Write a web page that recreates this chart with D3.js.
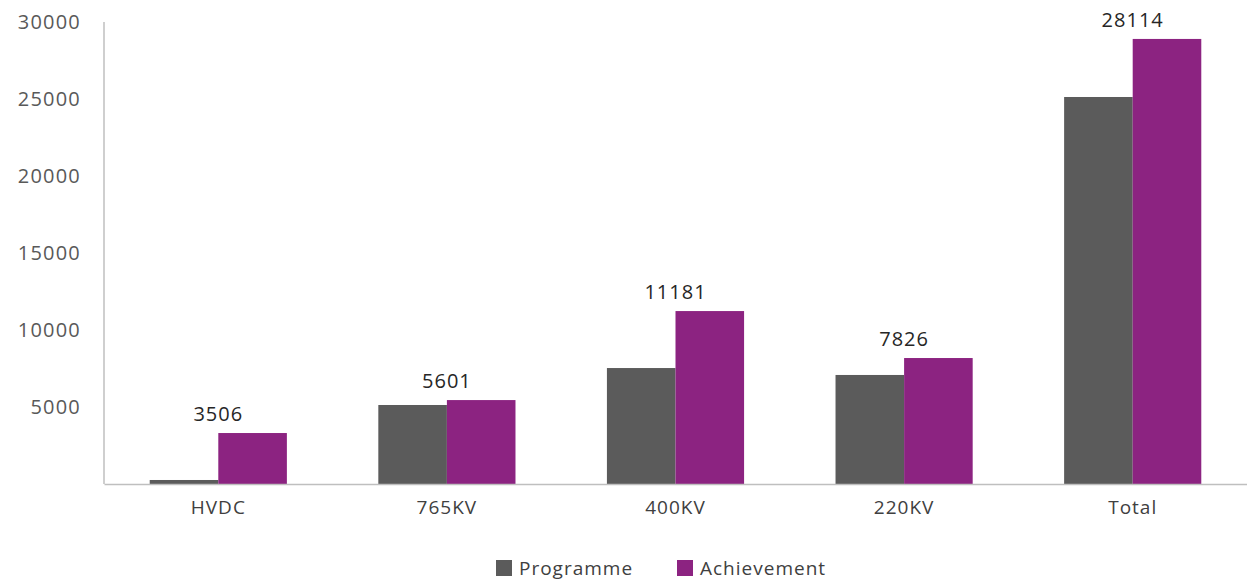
<!DOCTYPE html>
<html>
<head>
<meta charset="utf-8">
<script src="https://cdn.jsdelivr.net/npm/d3@7"></script>
<style>
	body { margin: 0; background: #fff; }
	text { font-family: "Open Sans", "Lato", sans-serif; font-weight: 400; }
</style>
</head>
<body>
<div id="graph"></div>
<script>
var categories = ["HVDC", "765KV", "400KV", "220KV", "Total"];
var programme = [260, 5130, 7530, 7080, 25130];
var achievement = [3310, 5450, 11230, 8180, 28900];
var achievementLabels = ["3506", "5601", "11181", "7826", "28114"];
var yTicks = [5000, 10000, 15000, 20000, 25000, 30000];
var seriesNames = ["Programme", "Achievement"];

var width = 1247
var height = 580
var margin = { top: 22, right: 0, bottom: 96, left: 104 };

var color = d3.scaleOrdinal()
	.domain(seriesNames)
	.range(["#5b5b5b", "#8c2381"]);

var svg = d3.select("#graph")
	.append("svg")
	.attr("width", width)
	.attr("height", height);

var x = d3.scaleBand()
	.domain(categories)
	.range([margin.left, width - margin.right])
	.paddingInner(0.4)
	.paddingOuter(0.2);

var x1 = d3.scaleBand()
	.domain(seriesNames)
	.range([0, x.bandwidth()]);

var y = d3.scaleLinear()
	.domain([0, 30000])
	.range([height - margin.bottom, margin.top]);

var rows = categories.map((c, i) => ({
	cat: c,
	values: [
		{ key: "Programme", value: programme[i] },
		{ key: "Achievement", value: achievement[i] }
	],
	label: achievementLabels[i]
}));

// y axis
var yAxis = svg.append("g")
	.attr("transform", "translate(" + margin.left + ",0)")
	.call(d3.axisLeft(y).tickValues(yTicks).tickFormat(d3.format("d")).tickSize(0).tickPadding(23));
yAxis.select(".domain")
	.attr("stroke", "#bfbfbf")
	.attr("stroke-width", 1.5)
	.attr("d", "M0," + y(30000) + "V" + y(0));
yAxis.selectAll("text")
	.attr("fill", "#595959")
	.style("font-size", "20px")
	.style("letter-spacing", "1.2px");

// bars
var group = svg.selectAll("g.group")
	.data(rows)
	.enter()
	.append("g")
	.attr("class", "group")
	.attr("transform", (d) => "translate(" + x(d.cat) + ",0)");

group.selectAll("rect")
	.data((d) => d.values)
	.enter()
	.append("rect")
	.attr("x", (d) => x1(d.key))
	.attr("y", (d) => y(d.value))
	.attr("width", x1.bandwidth())
	.attr("height", (d) => y(0) - y(d.value))
	.attr("fill", (d) => color(d.key));

group.append("text")
	.attr("x", x.bandwidth() / 2)
	.attr("y", (d) => y(d.values[1].value) - 12)
	.attr("text-anchor", "middle")
	.attr("fill", "#262626")
	.style("font-size", "20px")
	.style("letter-spacing", "1px")
	.text((d) => d.label);

// x axis
var xAxis = svg.append("g")
	.attr("transform", "translate(0," + y(0) + ")")
	.call(d3.axisBottom(x).tickSize(0).tickPadding(17));
xAxis.select(".domain")
	.attr("stroke", "#bfbfbf")
	.attr("stroke-width", 1.5);
xAxis.selectAll("text")
	.attr("fill", "#404040")
	.style("font-size", "19px")
	.style("letter-spacing", "1px");

// legend
var legendX = [496, 677];
var legend = svg.append("g")
	.selectAll("g")
	.data(seriesNames)
	.enter()
	.append("g")
	.attr("transform", (d, i) => "translate(" + legendX[i] + ",560)");

legend.append("rect")
	.attr("width", 16)
	.attr("height", 16)
	.attr("fill", (d) => color(d));

legend.append("text")
	.attr("x", 23)
	.attr("y", 15)
	.attr("fill", "#404040")
	.style("font-size", "19px")
	.style("letter-spacing", "1px")
	.text((d) => d);
</script>
</body>
</html>
